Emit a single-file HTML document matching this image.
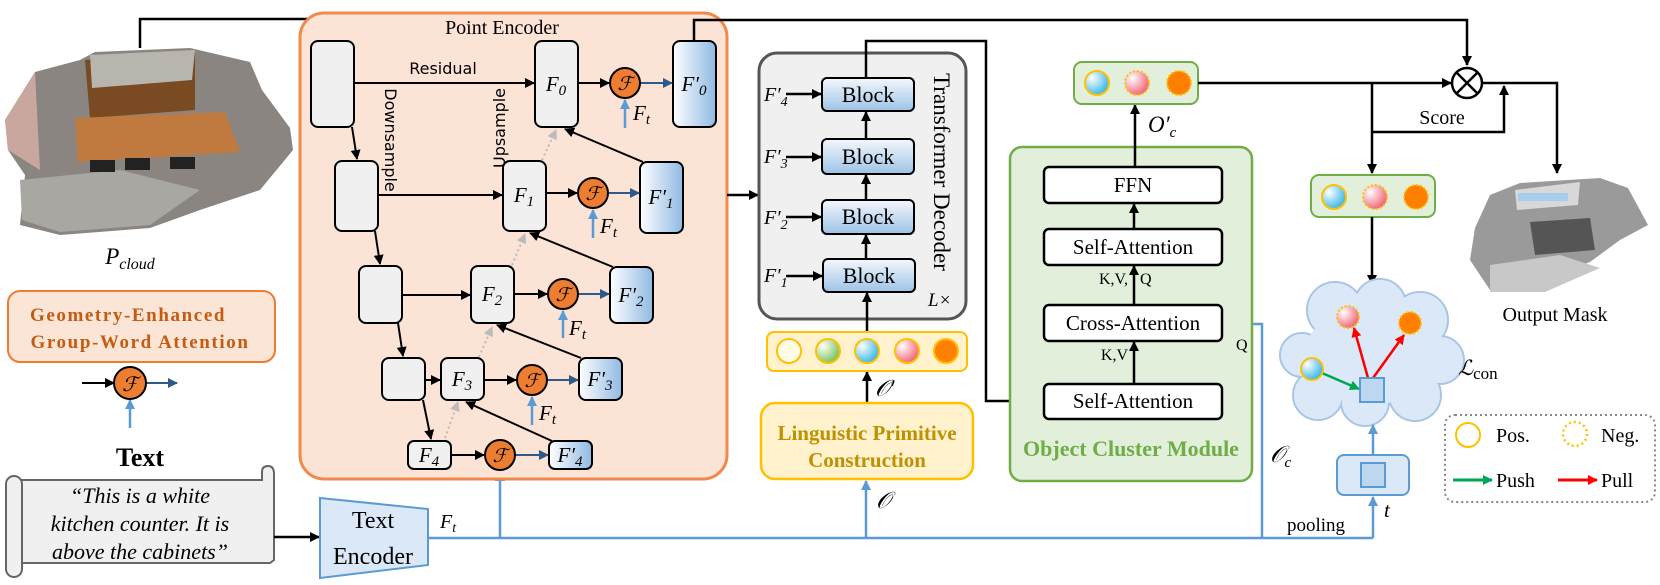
<!DOCTYPE html>
<html><head><meta charset="utf-8"><style>
html,body{margin:0;padding:0;background:#fff;}
svg{display:block;}
text{font-family:"Liberation Serif",serif;}
.s{font-family:"DejaVu Sans","Liberation Sans",sans-serif;}
.it{font-style:italic;}
</style></head><body>
<svg width="1660" height="585" viewBox="0 0 1660 585" xmlns="http://www.w3.org/2000/svg">
<defs>
<marker id="ab" markerWidth="10" markerHeight="10" refX="9" refY="5" orient="auto" markerUnits="userSpaceOnUse"><path d="M0,0 L10,5 L0,10 z" fill="#000"/></marker>
<marker id="ad" markerWidth="10" markerHeight="10" refX="9" refY="5" orient="auto" markerUnits="userSpaceOnUse"><path d="M0,0 L10,5 L0,10 z" fill="#2e5a8a"/></marker>
<marker id="al" markerWidth="10" markerHeight="10" refX="9" refY="5" orient="auto" markerUnits="userSpaceOnUse"><path d="M0,0 L10,5 L0,10 z" fill="#5b9bd5"/></marker>
<marker id="ag" markerWidth="10" markerHeight="10" refX="9" refY="5" orient="auto" markerUnits="userSpaceOnUse"><path d="M0,0 L10,5 L0,10 z" fill="#bbb"/></marker>
<marker id="agr" markerWidth="10" markerHeight="10" refX="9" refY="5" orient="auto" markerUnits="userSpaceOnUse"><path d="M0,0 L10,5 L0,10 z" fill="#00a651"/></marker>
<marker id="ar" markerWidth="10" markerHeight="10" refX="9" refY="5" orient="auto" markerUnits="userSpaceOnUse"><path d="M0,0 L10,5 L0,10 z" fill="#f00"/></marker>
<linearGradient id="fb" x1="0" y1="0" x2="1" y2="0"><stop offset="0" stop-color="#fff"/><stop offset="1" stop-color="#8fb9e3"/></linearGradient>
<linearGradient id="blk" x1="0" y1="0" x2="0" y2="1"><stop offset="0" stop-color="#f4f8fc"/><stop offset="1" stop-color="#9dc3e6"/></linearGradient>
<radialGradient id="gb" cx="0.3" cy="0.3" r="0.8"><stop offset="0" stop-color="#fff"/><stop offset="1" stop-color="#29b0ea"/></radialGradient>
<radialGradient id="gp" cx="0.3" cy="0.3" r="0.8"><stop offset="0" stop-color="#fff"/><stop offset="1" stop-color="#f05a6e"/></radialGradient>
<radialGradient id="gg" cx="0.3" cy="0.3" r="0.8"><stop offset="0" stop-color="#fff"/><stop offset="1" stop-color="#6cbf4a"/></radialGradient>
</defs>

<!-- point cloud image -->
<g>
<polygon points="5,120 35,72 80,60 95,52 190,48 250,62 262,90 290,128 293,150 260,190 200,210 150,228 60,235 20,225 25,175 8,150" fill="#8a8580"/>
<polygon points="85,60 195,52 195,110 90,118" fill="#7a4a22"/>
<polygon points="90,55 195,50 192,80 92,88" fill="#b8b4ae"/>
<polygon points="75,118 225,112 240,152 78,162" fill="#c07a40"/>
<polygon points="20,180 120,170 200,190 150,225 60,232 22,220" fill="#a9a7a2"/>
<polygon points="5,120 35,72 40,170 8,150" fill="#c9a79e"/>
<rect x="90" y="160" width="25" height="12" fill="#222"/><rect x="125" y="158" width="25" height="12" fill="#222"/><rect x="170" y="157" width="25" height="12" fill="#222"/>
</g>
<text x="130" y="264" font-size="23" text-anchor="middle" class="it">P<tspan font-size="16" dy="5">cloud</tspan></text>

<!-- Geometry box -->
<rect x="8" y="291" width="267" height="71" rx="12" fill="#fbe5d6" stroke="#ed7d31" stroke-width="2"/>
<text x="128" y="321" font-size="19" font-weight="bold" fill="#c55a11" text-anchor="middle" letter-spacing="1.6">Geometry-Enhanced</text>
<text x="140" y="348" font-size="19" font-weight="bold" fill="#c55a11" text-anchor="middle" letter-spacing="1.6">Group-Word Attention</text>
<line x1="82" y1="383" x2="114" y2="383" stroke="#000" stroke-width="2" marker-end="url(#ab)"/>
<line x1="146" y1="383" x2="177" y2="383" stroke="#2e5a8a" stroke-width="2" marker-end="url(#ad)"/>
<line x1="130" y1="428" x2="130" y2="400" stroke="#5b9bd5" stroke-width="2.5" marker-end="url(#al)"/>
<circle cx="130" cy="383" r="16" fill="#ed7d31" stroke="#000" stroke-width="2"/>
<text x="130" y="391" font-size="20" text-anchor="middle" class="it">ℱ</text>

<!-- Text scroll -->
<text x="140" y="466" font-size="26" font-weight="bold" text-anchor="middle">Text</text>
<path d="M18,480 L262,480 L262,472 Q262,466 268,466 Q274,466 274,474 L274,560 L270,563 L22,563" fill="#f0f0f0" stroke="#666" stroke-width="2"/>
<rect x="6" y="476" width="16" height="101" rx="8" fill="#f0f0f0" stroke="#666" stroke-width="2"/>
<text x="140" y="503" font-size="22" class="it" text-anchor="middle">“This is a white</text>
<text x="140" y="531" font-size="22" class="it" text-anchor="middle">kitchen counter. It is</text>
<text x="140" y="559" font-size="22" class="it" text-anchor="middle">above the cabinets”</text>
<line x1="274" y1="537" x2="319" y2="537" stroke="#000" stroke-width="2.5" marker-end="url(#ab)"/>

<!-- Text encoder -->
<polygon points="320,498 428,509 428,565 320,578" fill="#dae8f7" stroke="#5b9bd5" stroke-width="2"/>
<text x="373" y="528" font-size="24" text-anchor="middle">Text</text>
<text x="373" y="564" font-size="24" text-anchor="middle">Encoder</text>
<text x="440" y="528" font-size="20" class="it">F<tspan font-size="14" dy="4">t</tspan></text>

<!-- blue bus -->
<polyline points="428,538 1373,538" fill="none" stroke="#5b9bd5" stroke-width="2.5"/>
<line x1="500" y1="538" x2="500" y2="472" stroke="#5b9bd5" stroke-width="2.5" marker-end="url(#al)"/>
<line x1="866" y1="538" x2="866" y2="481" stroke="#5b9bd5" stroke-width="2.5" marker-end="url(#al)"/>
<polyline points="1262,538 1262,324 1224,324" fill="none" stroke="#5b9bd5" stroke-width="2.5" marker-end="url(#al)"/>
<line x1="1373" y1="538" x2="1373" y2="497" stroke="#5b9bd5" stroke-width="2.5" marker-end="url(#al)"/>

<!-- top line into encoder -->
<polyline points="140,48 140,19 333,19 333,39" fill="none" stroke="#000" stroke-width="2.5" marker-end="url(#ab)"/>

<!-- Point Encoder -->
<rect x="300" y="13" width="427" height="466" rx="24" fill="#fbe3d6" stroke="#f08a4b" stroke-width="3"/>
<text x="502" y="34" font-size="20" text-anchor="middle">Point Encoder</text>
<g fill="#f0f0f0" stroke="#000" stroke-width="2">
<rect x="311" y="41" width="43" height="86" rx="7"/>
<rect x="335" y="161" width="43" height="70" rx="7"/>
<rect x="359" y="266" width="43" height="57" rx="7"/>
<rect x="382" y="358" width="43" height="42" rx="7"/>
<rect x="535" y="41" width="43" height="86" rx="7"/>
<rect x="503" y="161" width="43" height="70" rx="7"/>
<rect x="471" y="266" width="43" height="57" rx="7"/>
<rect x="441" y="358" width="43" height="42" rx="7"/>
<rect x="408" y="441" width="43" height="28" rx="6"/>
</g>
<g fill="url(#fb)" stroke="#000" stroke-width="2">
<rect x="673" y="41" width="43" height="86" rx="7"/>
<rect x="640" y="162" width="43" height="71" rx="7"/>
<rect x="610" y="267" width="43" height="56" rx="7"/>
<rect x="579" y="358" width="43" height="42" rx="7"/>
<rect x="549" y="441" width="43" height="28" rx="6"/>
</g>
<g font-size="21" class="it" text-anchor="middle">
<text x="556" y="91">F<tspan font-size="15" dy="4">0</tspan></text>
<text x="524" y="202">F<tspan font-size="15" dy="4">1</tspan></text>
<text x="492" y="301">F<tspan font-size="15" dy="4">2</tspan></text>
<text x="462" y="386">F<tspan font-size="15" dy="4">3</tspan></text>
<text x="429" y="462">F<tspan font-size="15" dy="4">4</tspan></text>
<text x="694" y="91">F′<tspan font-size="15" dy="4">0</tspan></text>
<text x="661" y="204">F′<tspan font-size="15" dy="4">1</tspan></text>
<text x="631" y="302">F′<tspan font-size="15" dy="4">2</tspan></text>
<text x="600" y="386">F′<tspan font-size="15" dy="4">3</tspan></text>
<text x="570" y="462">F′<tspan font-size="15" dy="4">4</tspan></text>
</g>
<g stroke="#000" stroke-width="2" fill="none">
<line x1="354" y1="83" x2="534" y2="83" marker-end="url(#ab)"/>
<line x1="378" y1="195" x2="502" y2="195" marker-end="url(#ab)"/>
<line x1="402" y1="295" x2="470" y2="295" marker-end="url(#ab)"/>
<line x1="425" y1="380" x2="440" y2="380" marker-end="url(#ab)"/>
<line x1="578" y1="83" x2="609" y2="83" marker-end="url(#ab)"/>
<line x1="546" y1="193" x2="577" y2="193" marker-end="url(#ab)"/>
<line x1="514" y1="294" x2="547" y2="294" marker-end="url(#ab)"/>
<line x1="484" y1="380" x2="516" y2="380" marker-end="url(#ab)"/>
<line x1="451" y1="455" x2="484" y2="455" marker-end="url(#ab)"/>
<line x1="352" y1="127" x2="357" y2="159" marker-end="url(#ab)"/>
<line x1="375" y1="231" x2="380" y2="264" marker-end="url(#ab)"/>
<line x1="398" y1="323" x2="403" y2="356" marker-end="url(#ab)"/>
<line x1="423" y1="400" x2="431" y2="439" marker-end="url(#ab)"/>
<line x1="643" y1="162" x2="565" y2="129" marker-end="url(#ab)"/>
<line x1="613" y1="267" x2="530" y2="233" marker-end="url(#ab)"/>
<line x1="581" y1="358" x2="497" y2="325" marker-end="url(#ab)"/>
<line x1="552" y1="441" x2="466" y2="402" marker-end="url(#ab)"/>
</g>
<g stroke="#bbb" stroke-width="2" stroke-dasharray="2,3" fill="none">
<line x1="542" y1="160" x2="556" y2="130" marker-end="url(#ag)"/>
<line x1="512" y1="265" x2="525" y2="234" marker-end="url(#ag)"/>
<line x1="479" y1="357" x2="492" y2="327" marker-end="url(#ag)"/>
<line x1="445" y1="438" x2="458" y2="402" marker-end="url(#ag)"/>
</g>
<g stroke="#2e5a8a" stroke-width="2">
<line x1="640" y1="83" x2="672" y2="83" marker-end="url(#ad)"/>
<line x1="608" y1="193" x2="639" y2="193" marker-end="url(#ad)"/>
<line x1="578" y1="294" x2="609" y2="294" marker-end="url(#ad)"/>
<line x1="547" y1="380" x2="578" y2="380" marker-end="url(#ad)"/>
<line x1="515" y1="455" x2="548" y2="455" marker-end="url(#ad)"/>
</g>
<g stroke="#5b9bd5" stroke-width="2.5">
<line x1="625" y1="128" x2="625" y2="100" marker-end="url(#al)"/>
<line x1="593" y1="238" x2="593" y2="210" marker-end="url(#al)"/>
<line x1="563" y1="338" x2="563" y2="311" marker-end="url(#al)"/>
<line x1="532" y1="425" x2="532" y2="397" marker-end="url(#al)"/>
</g>
<g fill="#ed7d31" stroke="#000" stroke-width="2">
<circle cx="625" cy="83" r="15"/><circle cx="593" cy="193" r="15"/><circle cx="563" cy="294" r="15"/><circle cx="532" cy="380" r="15"/><circle cx="500" cy="455" r="15"/>
</g>
<g font-size="19" class="it" text-anchor="middle">
<text x="625" y="90">ℱ</text><text x="593" y="200">ℱ</text><text x="563" y="301">ℱ</text><text x="532" y="387">ℱ</text><text x="500" y="462">ℱ</text>
</g>
<g font-size="21" class="it">
<text x="633" y="120">F<tspan font-size="15" dy="4">t</tspan></text>
<text x="600" y="233">F<tspan font-size="15" dy="4">t</tspan></text>
<text x="569" y="335">F<tspan font-size="15" dy="4">t</tspan></text>
<text x="539" y="420">F<tspan font-size="15" dy="4">t</tspan></text>
</g>
<text x="443" y="74" font-size="16" class="s" text-anchor="middle">Residual</text>
<text transform="translate(385,140) rotate(90)" font-size="16" class="s" text-anchor="middle">Downsample</text>
<text transform="translate(505,128) rotate(-90)" font-size="16" class="s" text-anchor="middle">Upsample</text>

<polyline points="694,41 694,20 1467,20 1467,65" fill="none" stroke="#000" stroke-width="2.5" marker-end="url(#ab)"/>

<!-- Transformer Decoder -->
<line x1="727" y1="195" x2="758" y2="195" stroke="#000" stroke-width="2.5" marker-end="url(#ab)"/>
<rect x="759" y="53" width="207" height="266" rx="18" fill="#f0f0f0" stroke="#555" stroke-width="3"/>
<g fill="url(#blk)" stroke="#000" stroke-width="2">
<rect x="822" y="78" width="92" height="33" rx="5"/>
<rect x="822" y="139" width="92" height="35" rx="5"/>
<rect x="822" y="200" width="92" height="34" rx="5"/>
<rect x="823" y="259" width="92" height="33" rx="5"/>
</g>
<g font-size="22" text-anchor="middle">
<text x="868" y="102">Block</text><text x="868" y="164">Block</text><text x="868" y="224">Block</text><text x="869" y="283">Block</text>
</g>
<g font-size="20" class="it">
<text x="764" y="101">F′<tspan font-size="14" dy="5">4</tspan></text>
<text x="764" y="163">F′<tspan font-size="14" dy="5">3</tspan></text>
<text x="764" y="224">F′<tspan font-size="14" dy="5">2</tspan></text>
<text x="764" y="282">F′<tspan font-size="14" dy="5">1</tspan></text>
</g>
<g stroke="#000" stroke-width="2.5">
<line x1="786" y1="94" x2="821" y2="94" marker-end="url(#ab)"/>
<line x1="786" y1="157" x2="821" y2="157" marker-end="url(#ab)"/>
<line x1="786" y1="217" x2="821" y2="217" marker-end="url(#ab)"/>
<line x1="786" y1="276" x2="822" y2="276" marker-end="url(#ab)"/>
<line x1="866" y1="139" x2="866" y2="112" marker-end="url(#ab)"/>
<line x1="866" y1="200" x2="866" y2="175" marker-end="url(#ab)"/>
<line x1="866" y1="259" x2="866" y2="235" marker-end="url(#ab)"/>
<line x1="867" y1="332" x2="867" y2="293" marker-end="url(#ab)"/>
<line x1="867" y1="403" x2="867" y2="372" marker-end="url(#ab)"/>
</g>
<text transform="translate(934,172) rotate(90)" font-size="23" text-anchor="middle">Transformer Decoder</text>
<text x="928" y="306" font-size="19" class="it">L×</text>
<polyline points="866,78 866,41 986,41 986,401 1043,401" fill="none" stroke="#000" stroke-width="2.5" marker-end="url(#ab)"/>

<rect x="767" y="332" width="200" height="39" rx="7" fill="#fff2cc" stroke="#ffc000" stroke-width="2"/>
<g stroke="#ffc000" stroke-width="2">
<circle cx="789" cy="351" r="12" fill="#fffde8"/>
<circle cx="828" cy="351" r="12" fill="url(#gg)"/>
<circle cx="867" cy="351" r="12" fill="url(#gb)"/>
<circle cx="907" cy="351" r="12" fill="url(#gp)"/>
<circle cx="946" cy="351" r="12" fill="#ff8000"/>
</g>
<text x="875" y="396" font-size="23" class="it">𝒪′</text>

<rect x="761" y="403" width="212" height="76" rx="14" fill="#fff2cc" stroke="#ffc000" stroke-width="2.5"/>
<text x="867" y="440" font-size="21" font-weight="bold" fill="#bf9000" text-anchor="middle">Linguistic Primitive</text>
<text x="867" y="467" font-size="21" font-weight="bold" fill="#bf9000" text-anchor="middle">Construction</text>
<text x="876" y="508" font-size="23" class="it">𝒪</text>

<!-- Object Cluster Module -->
<rect x="1010" y="147" width="242" height="334" rx="12" fill="#e2efda" stroke="#70ad47" stroke-width="2.5"/>
<g fill="#fff" stroke="#000" stroke-width="2.5">
<rect x="1044" y="167" width="178" height="36" rx="5"/>
<rect x="1044" y="229" width="178" height="36" rx="5"/>
<rect x="1044" y="305" width="178" height="36" rx="5"/>
<rect x="1044" y="384" width="178" height="35" rx="5"/>
</g>
<g font-size="21" text-anchor="middle">
<text x="1133" y="192">FFN</text>
<text x="1133" y="254">Self-Attention</text>
<text x="1133" y="330">Cross-Attention</text>
<text x="1133" y="408">Self-Attention</text>
</g>
<g stroke="#000" stroke-width="2.5">
<line x1="1134" y1="229" x2="1134" y2="204" marker-end="url(#ab)"/>
<line x1="1134" y1="305" x2="1134" y2="266" marker-end="url(#ab)"/>
<line x1="1134" y1="384" x2="1134" y2="342" marker-end="url(#ab)"/>
<line x1="1135" y1="167" x2="1135" y2="105" marker-end="url(#ab)"/>
</g>
<text x="1128" y="284" font-size="16" text-anchor="end">K,V,</text>
<text x="1140" y="284" font-size="16">Q</text>
<text x="1128" y="360" font-size="16" text-anchor="end">K,V</text>
<text x="1236" y="350" font-size="16">Q</text>
<text x="1131" y="456" font-size="22" font-weight="bold" fill="#70ad47" text-anchor="middle">Object Cluster Module</text>
<text x="1270" y="462" font-size="23" class="it">𝒪<tspan font-size="15" dy="5">c</tspan></text>

<rect x="1074" y="62" width="124" height="42" rx="8" fill="#e2efda" stroke="#70ad47" stroke-width="2"/>
<circle cx="1097" cy="83" r="12" fill="url(#gb)" stroke="#ffc000" stroke-width="2"/>
<circle cx="1137" cy="83" r="12" fill="url(#gp)" stroke="#ffc000" stroke-width="2" stroke-dasharray="2,2"/>
<circle cx="1179" cy="83" r="12" fill="#ff8000" stroke="#ffc000" stroke-width="2" stroke-dasharray="2,2"/>
<text x="1148" y="132" font-size="23" class="it">O′<tspan font-size="15" dy="5">c</tspan></text>

<line x1="1198" y1="83" x2="1451" y2="83" stroke="#000" stroke-width="2.5" marker-end="url(#ab)"/>
<circle cx="1467" cy="83" r="15" fill="#fff" stroke="#000" stroke-width="2.5"/>
<line x1="1456" y1="72" x2="1478" y2="94" stroke="#000" stroke-width="2.5"/>
<line x1="1478" y1="72" x2="1456" y2="94" stroke="#000" stroke-width="2.5"/>
<line x1="1372" y1="83" x2="1372" y2="173" stroke="#000" stroke-width="2.5" marker-end="url(#ab)"/>
<polyline points="1372,132 1504,132 1504,86" fill="none" stroke="#000" stroke-width="2.5" marker-end="url(#ab)"/>
<polyline points="1482,83 1557,83 1557,173" fill="none" stroke="#000" stroke-width="2.5" marker-end="url(#ab)"/>
<text x="1442" y="124" font-size="20" text-anchor="middle">Score</text>

<rect x="1311" y="175" width="124" height="42" rx="8" fill="#e2efda" stroke="#70ad47" stroke-width="2"/>
<circle cx="1334" cy="197" r="12" fill="url(#gb)" stroke="#ffc000" stroke-width="2"/>
<circle cx="1375" cy="197" r="12" fill="url(#gp)" stroke="#ffc000" stroke-width="2" stroke-dasharray="2,2"/>
<circle cx="1416" cy="197" r="12" fill="#ff8000" stroke="#ffc000" stroke-width="2" stroke-dasharray="2,2"/>
<line x1="1372" y1="217" x2="1372" y2="284" stroke="#000" stroke-width="2.5" marker-end="url(#ab)"/>

<g stroke="#a9c4e4" stroke-width="2" fill="#dae8f7">
<circle cx="1335" cy="310" r="28"/><circle cx="1380" cy="305" r="26"/><circle cx="1420" cy="320" r="28"/>
<circle cx="1440" cy="360" r="24"/><circle cx="1415" cy="395" r="26"/><circle cx="1365" cy="402" r="24"/>
<circle cx="1318" cy="395" r="25"/><circle cx="1302" cy="355" r="22"/>
</g>
<g fill="#dae8f7">
<circle cx="1335" cy="310" r="27"/><circle cx="1380" cy="305" r="25"/><circle cx="1420" cy="320" r="27"/>
<circle cx="1440" cy="360" r="23"/><circle cx="1415" cy="395" r="25"/><circle cx="1365" cy="402" r="23"/>
<circle cx="1318" cy="395" r="24"/><circle cx="1302" cy="355" r="21"/>
<ellipse cx="1370" cy="355" rx="65" ry="50"/>
</g>
<line x1="1322" y1="373" x2="1359" y2="389" stroke="#00a651" stroke-width="2.5" marker-end="url(#agr)"/>
<line x1="1368" y1="378" x2="1354" y2="328" stroke="#f00" stroke-width="2.5" marker-end="url(#ar)"/>
<line x1="1373" y1="378" x2="1404" y2="335" stroke="#f00" stroke-width="2.5" marker-end="url(#ar)"/>
<circle cx="1348" cy="317" r="11" fill="url(#gp)" stroke="#ffc000" stroke-width="2" stroke-dasharray="2,2"/>
<circle cx="1410" cy="323" r="11" fill="#ff8000" stroke="#ffc000" stroke-width="2" stroke-dasharray="2,2"/>
<circle cx="1312" cy="369" r="11" fill="url(#gb)" stroke="#ffc000" stroke-width="2"/>
<rect x="1360" y="378" width="24" height="24" fill="#bdd7ee" stroke="#5b9bd5" stroke-width="2"/>
<text x="1458" y="375" font-size="21" class="it">ℒ<tspan font-size="17" font-style="normal" dy="4">con</tspan></text>

<line x1="1373" y1="455" x2="1373" y2="425" stroke="#5b9bd5" stroke-width="2.5" marker-end="url(#al)"/>
<rect x="1337" y="455" width="72" height="40" rx="7" fill="#dae8f7" stroke="#5b9bd5" stroke-width="2"/>
<rect x="1361" y="463" width="24" height="24" fill="#bdd7ee" stroke="#5b9bd5" stroke-width="2"/>
<text x="1384" y="517" font-size="21" class="it">t</text>
<text x="1316" y="531" font-size="19" text-anchor="middle">pooling</text>

<g>
<polygon points="1475,228 1490,195 1520,183 1600,178 1628,188 1648,225 1620,240 1590,262 1540,280 1490,290 1470,260" fill="#9a9a9a"/>
<polygon points="1515,190 1580,182 1578,205 1517,210" fill="#d8d8d8"/>
<rect x="1518" y="193" width="50" height="8" fill="#a8cdea"/>
<polygon points="1490,265 1560,255 1600,268 1545,292 1490,292" fill="#c8c8c8"/>
<polygon points="1530,222 1590,218 1595,250 1535,255" fill="#555"/>
</g>
<text x="1555" y="321" font-size="20" text-anchor="middle">Output Mask</text>

<rect x="1445" y="415" width="210" height="87" rx="10" fill="#fff" stroke="#888" stroke-width="2" stroke-dasharray="2,3"/>
<circle cx="1468" cy="435" r="12" fill="none" stroke="#ffc000" stroke-width="2"/>
<text x="1496" y="442" font-size="20">Pos.</text>
<circle cx="1575" cy="434" r="12" fill="none" stroke="#ffc000" stroke-width="2.5" stroke-dasharray="2,3"/>
<text x="1601" y="442" font-size="20">Neg.</text>
<line x1="1453" y1="480" x2="1492" y2="480" stroke="#00a651" stroke-width="3" marker-end="url(#agr)"/>
<text x="1496" y="487" font-size="20">Push</text>
<line x1="1558" y1="480" x2="1597" y2="480" stroke="#f00" stroke-width="3" marker-end="url(#ar)"/>
<text x="1601" y="487" font-size="20">Pull</text>
</svg>
</body></html>
